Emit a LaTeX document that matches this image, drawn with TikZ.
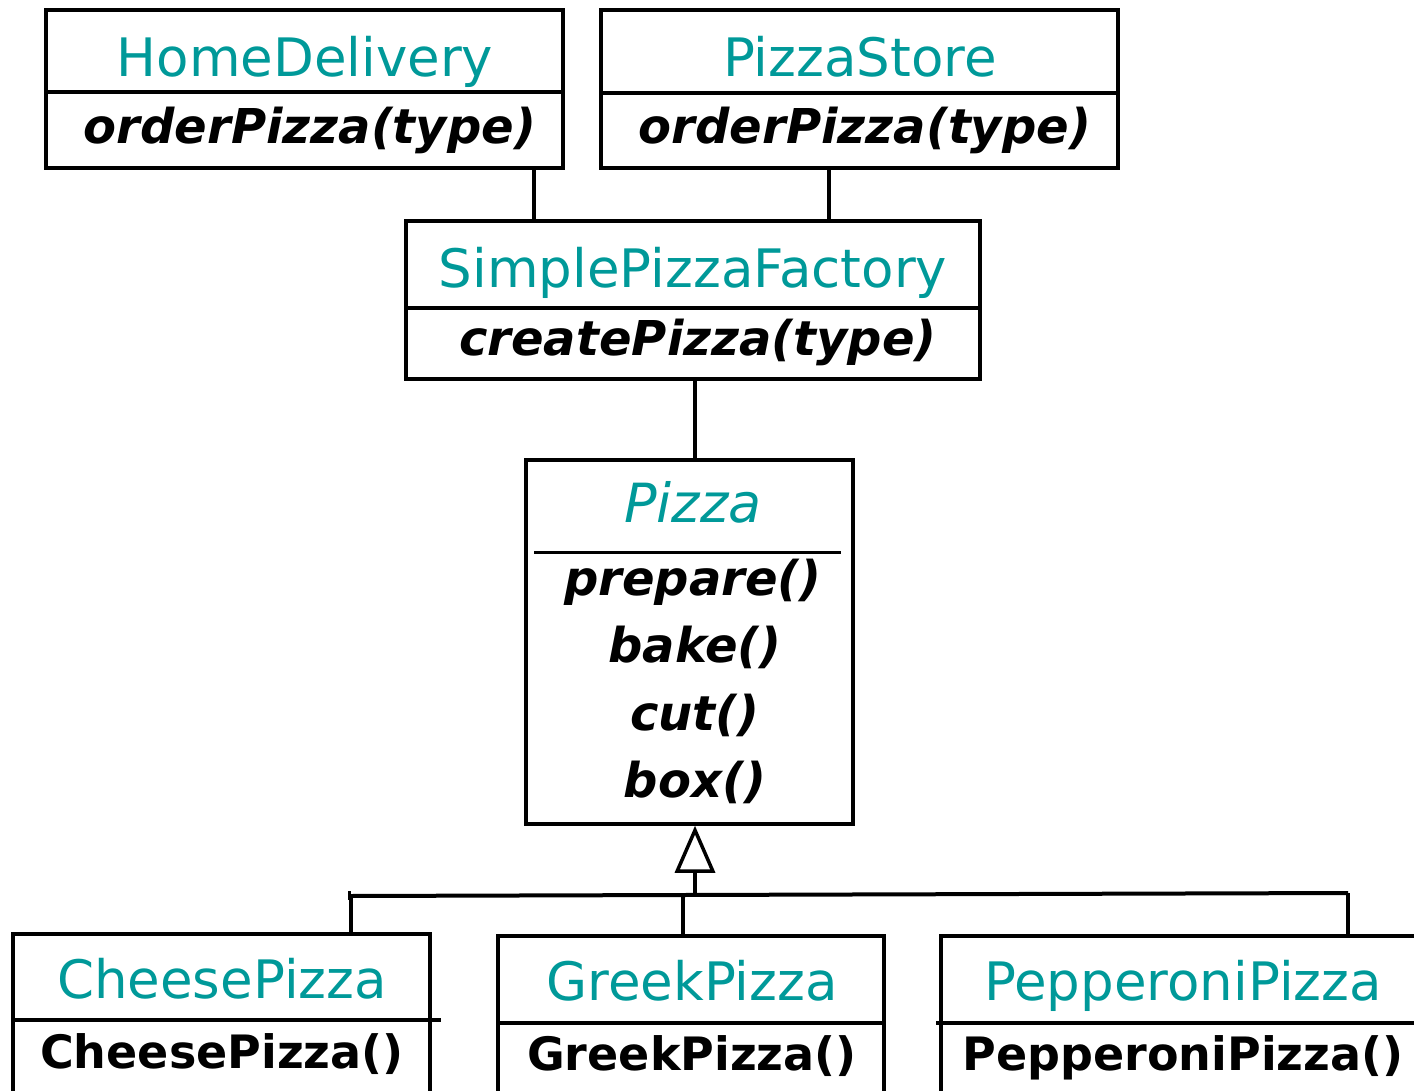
\documentclass[tikz,border=0pt]{standalone}
\usepackage{fontspec}
\setmainfont{DejaVu Sans}
\usetikzlibrary{arrows.meta}
\definecolor{tealtxt}{RGB}{0,153,153}
\begin{document}
\begin{tikzpicture}[x=1pt,y=-1pt,
  umlbox/.style={draw, line width=3.5pt, rectangle, inner sep=0pt},
  ttl/.style={anchor=base, text=tealtxt, font=\fontsize{53}{60}\selectfont, inner sep=0pt},
  ttlit/.style={anchor=base, text=tealtxt, font=\fontsize{54}{60}\selectfont\itshape, inner sep=0pt},
  mth/.style={anchor=base, font=\fontsize{48}{56}\selectfont\bfseries\itshape, inner sep=0pt},
  mthup/.style={anchor=base, font=\fontsize{46}{54}\selectfont\bfseries, inner sep=0pt},
  conn/.style={line width=3.5pt},
  divl/.style={line width=3.5pt}]
\useasboundingbox (0,0) rectangle (1414,1090);
\clip (0,0) rectangle (1414,1090);

% top boxes
\node[umlbox, minimum width=517pt, minimum height=158pt] (hd) at (304.5,89) {};
\node[umlbox, minimum width=517pt, minimum height=158pt] (ps) at (859.5,89) {};
\node[umlbox, minimum width=574pt, minimum height=158pt] (sf) at (693,300) {};
\node[umlbox, minimum width=327pt, minimum height=364pt] (pz) at (689.5,642) {};

% bottom boxes (cut at page edge)
\node[umlbox, minimum width=417pt, minimum height=200pt] (cp) at (221.5,1034) {};
\node[umlbox, minimum width=386pt, minimum height=200pt] (gp) at (691,1036) {};
\node[umlbox, minimum width=500pt, minimum height=200pt] (pp) at (1191,1036) {};

% dividers
\draw[divl] (hd.west |- 0,92) -- (hd.east |- 0,92);
\draw[divl] (ps.west |- 0,93) -- (ps.east |- 0,93);
\draw[divl] (sf.west |- 0,308) -- (sf.east |- 0,308);
\draw[line width=3pt] (534,552) -- (841,552);
\draw[divl] (13,1020) -- (441,1020);
\draw[divl] (498,1023) -- (886,1023);
\draw[divl] (936,1023) -- (1414,1023);

% texts
\node[ttl] (hdt) at (305,76) {HomeDelivery};
\node[mth] (hdm) at (310,143) {orderPizza(type)};
\node[ttl] (pst) at (860,76) {PizzaStore};
\node[mth] (psm) at (865,143) {orderPizza(type)};
\node[ttl] (sft) at (693,287) {SimplePizzaFactory};
\node[mth] (sfm) at (698,355) {createPizza(type)};
\node[ttlit] (pzt) at (693,522) {Pizza};
\node[mth] (pzm1) at (693,595) {prepare()};
\node[mth] (pzm2) at (695,662) {bake()};
\node[mth] (pzm3) at (695,730) {cut()};
\node[mth] (pzm4) at (695,797) {box()};
\node[ttl] (cpt) at (222,998) {CheesePizza};
\node[mthup] (cpm) at (222,1068) {CheesePizza()};
\node[ttl] (gpt) at (692,1000) {GreekPizza};
\node[mthup] (gpm) at (692,1070) {GreekPizza()};
\node[ttl] (ppt) at (1183,1000) {PepperoniPizza};
\node[mthup] (ppm) at (1183,1070) {PepperoniPizza()};

% associations
\draw[conn] (hd.south -| 534,0) -- (sf.north -| 534,0);
\draw[conn] (ps.south -| 829,0) -- (sf.north -| 829,0);
\draw[conn] (sf.south -| 695,0) -- (pz.north -| 695,0);

% inheritance
\coordinate (bar) at (695,895);
\coordinate (barL) at (349,896);
\coordinate (barR) at (1348,893);
\draw[line width=3.5pt, -{Triangle[open, length=47pt, width=40pt, line width=3.5pt]}] (bar) -- (pz.south -| bar);
\draw[line width=4pt] (barL) -- (barR);
\draw[line width=3pt] (349,891) -- (349,900);
\draw[conn] (351,896) -- (cp.north -| 351,0);
\draw[conn] (683,895) -- (gp.north -| 683,0);
\draw[conn] (barR) -- (pp.north -| barR);
\end{tikzpicture}
\end{document}
